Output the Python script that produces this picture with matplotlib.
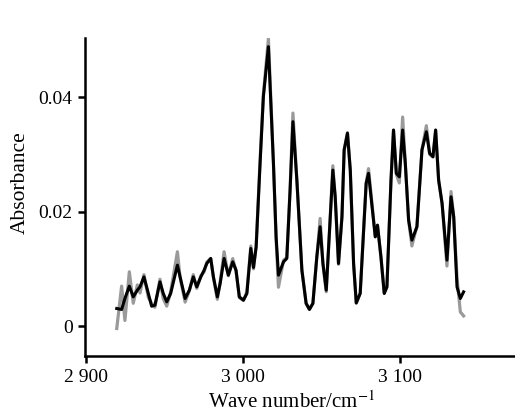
import matplotlib
matplotlib.use("Agg")
import matplotlib.pyplot as plt
from matplotlib.ticker import FixedLocator

wavenumber = [2919.6, 2922.7, 2924.8, 2927.6, 2930.1, 2932.7, 2934.4, 2936.9, 2939.7, 2941.8,
              2943.9, 2947.1, 2949.2, 2951.4, 2953.9, 2958.2, 2959.9, 2963.1, 2965.8, 2968.3,
              2970.5, 2973.1, 2975.2, 2976.9, 2979.4, 2981.1, 2983.6, 2985.4, 2987.9, 2990.6,
              2993.4, 2995.5, 2997.6, 3000.2, 3002.4, 3004.9, 3006.6, 3008.3, 3010.8, 3012.9,
              3016.1, 3019.3, 3021.0, 3022.5, 3025.7, 3027.8, 3029.9, 3031.7, 3034.2, 3037.4,
              3040.1, 3042.2, 3044.4, 3046.9, 3049.0, 3050.8, 3052.9, 3055.0, 3057.1, 3058.6,
              3060.7, 3062.9, 3064.3, 3066.4, 3068.2, 3070.3, 3072.0, 3074.5, 3078.3, 3079.8,
              3084.1, 3085.5, 3087.7, 3089.8, 3091.5, 3094.1, 3095.7, 3097.5, 3099.4, 3101.5,
              3103.2, 3105.3, 3107.4, 3110.6, 3113.8, 3116.6, 3118.7, 3120.8, 3122.5, 3124.4,
              3126.6, 3129.7, 3132.3, 3134.0, 3136.1, 3138.2, 3140.3]

smoothed = [0.00309, 0.00292, 0.00484, 0.00699, 0.00512, 0.00629, 0.00687, 0.00861, 0.00571, 0.00349,
            0.00367, 0.00774, 0.00571, 0.00425, 0.00571, 0.01066, 0.00861, 0.00484, 0.00629, 0.00861,
            0.00687, 0.00861, 0.00978, 0.01095, 0.01183, 0.00861, 0.00512, 0.00746, 0.01183, 0.00891,
            0.01123, 0.00978, 0.00512, 0.00454, 0.00571, 0.01357, 0.01025, 0.01385, 0.02842, 0.04006,
            0.04879, 0.02842, 0.01560, 0.00891, 0.01123, 0.01183, 0.02376, 0.03569, 0.02551, 0.00978,
            0.00397, 0.00292, 0.00397, 0.01211, 0.01735, 0.01095, 0.00629, 0.01677, 0.02725, 0.02259,
            0.01095, 0.01910, 0.03075, 0.03367, 0.02725, 0.01095, 0.00407, 0.00571, 0.02493, 0.02668,
            0.01560, 0.01764, 0.01211, 0.00571, 0.00687, 0.02551, 0.03424, 0.02668, 0.02608, 0.03424,
            0.02842, 0.01852, 0.01502, 0.01735, 0.03075, 0.03394, 0.03017, 0.02958, 0.03424, 0.02551,
            0.02144, 0.01153, 0.02259, 0.01910, 0.00687, 0.00484, 0.00599]

raw = [-0.0004, 0.0070, 0.0010, 0.0095, 0.0040, 0.0072, 0.0058, 0.0090, 0.0050, 0.0040,
       0.0033, 0.0082, 0.0048, 0.0035, 0.0060, 0.0130, 0.0085, 0.0042, 0.0062, 0.0090,
       0.0066, 0.0088, 0.0095, 0.0112, 0.0118, 0.0085, 0.0047, 0.0077, 0.0130, 0.0088,
       0.0118, 0.0096, 0.0050, 0.0045, 0.0060, 0.0140, 0.0100, 0.0140, 0.0290, 0.0405,
       0.0502, 0.0284, 0.0150, 0.0068, 0.0115, 0.0120, 0.0240, 0.0372, 0.0255, 0.0098,
       0.0040, 0.0030, 0.0040, 0.0120, 0.0188, 0.0108, 0.0060, 0.0168, 0.0280, 0.0225,
       0.0108, 0.0192, 0.0308, 0.0338, 0.0272, 0.0108, 0.0040, 0.0058, 0.0250, 0.0275,
       0.0156, 0.0176, 0.0120, 0.0058, 0.0068, 0.0255, 0.0342, 0.0265, 0.0250, 0.0365,
       0.0285, 0.0185, 0.0140, 0.0175, 0.0308, 0.0350, 0.0300, 0.0295, 0.0342, 0.0255,
       0.0214, 0.0105, 0.0235, 0.0190, 0.0085, 0.0025, 0.0018]

x_ticks = [2900, 3000, 3100]
x_tick_labels = ["2 900", "3 000", "3 100"]
y_ticks = [0, 0.02, 0.04]
y_tick_labels = ["0", "0.02", "0.04"]

plt.rcParams['font.family'] = ['Liberation Serif', 'DejaVu Serif']
plt.rcParams['mathtext.fontset'] = 'stix'

fig = plt.figure(figsize=(5.15, 4.12), dpi=100)
ax = fig.add_axes([85/515, 1-356/412, (515-85)/515, (356-38)/412])

ax.plot(wavenumber, raw, color='#9a9a9a', lw=2.3)
ax.plot(wavenumber, smoothed, color='black', lw=2.2)

ax.set_xlim(2899.4, 3173)
ax.set_ylim(-0.0052, 0.0503)
ax.xaxis.set_major_locator(FixedLocator(x_ticks))
ax.set_xticklabels(x_tick_labels)
ax.yaxis.set_major_locator(FixedLocator(y_ticks))
ax.set_yticklabels(y_tick_labels)

for s in ['top', 'right']:
    ax.spines[s].set_visible(False)
for s in ['left', 'bottom']:
    ax.spines[s].set_linewidth(1.8)
ax.tick_params(direction='out', length=5, width=1.8, labelsize=14, pad=4)

ax.set_xlabel("Wave number/cm$^{-1}$", fontsize=15)
ax.xaxis.set_label_coords(0.481, -0.112)
ax.set_ylabel("Absorbance", fontsize=15.5)
ax.yaxis.set_label_coords(-0.128, 0.544)

fig.savefig("out.png", dpi=100)
